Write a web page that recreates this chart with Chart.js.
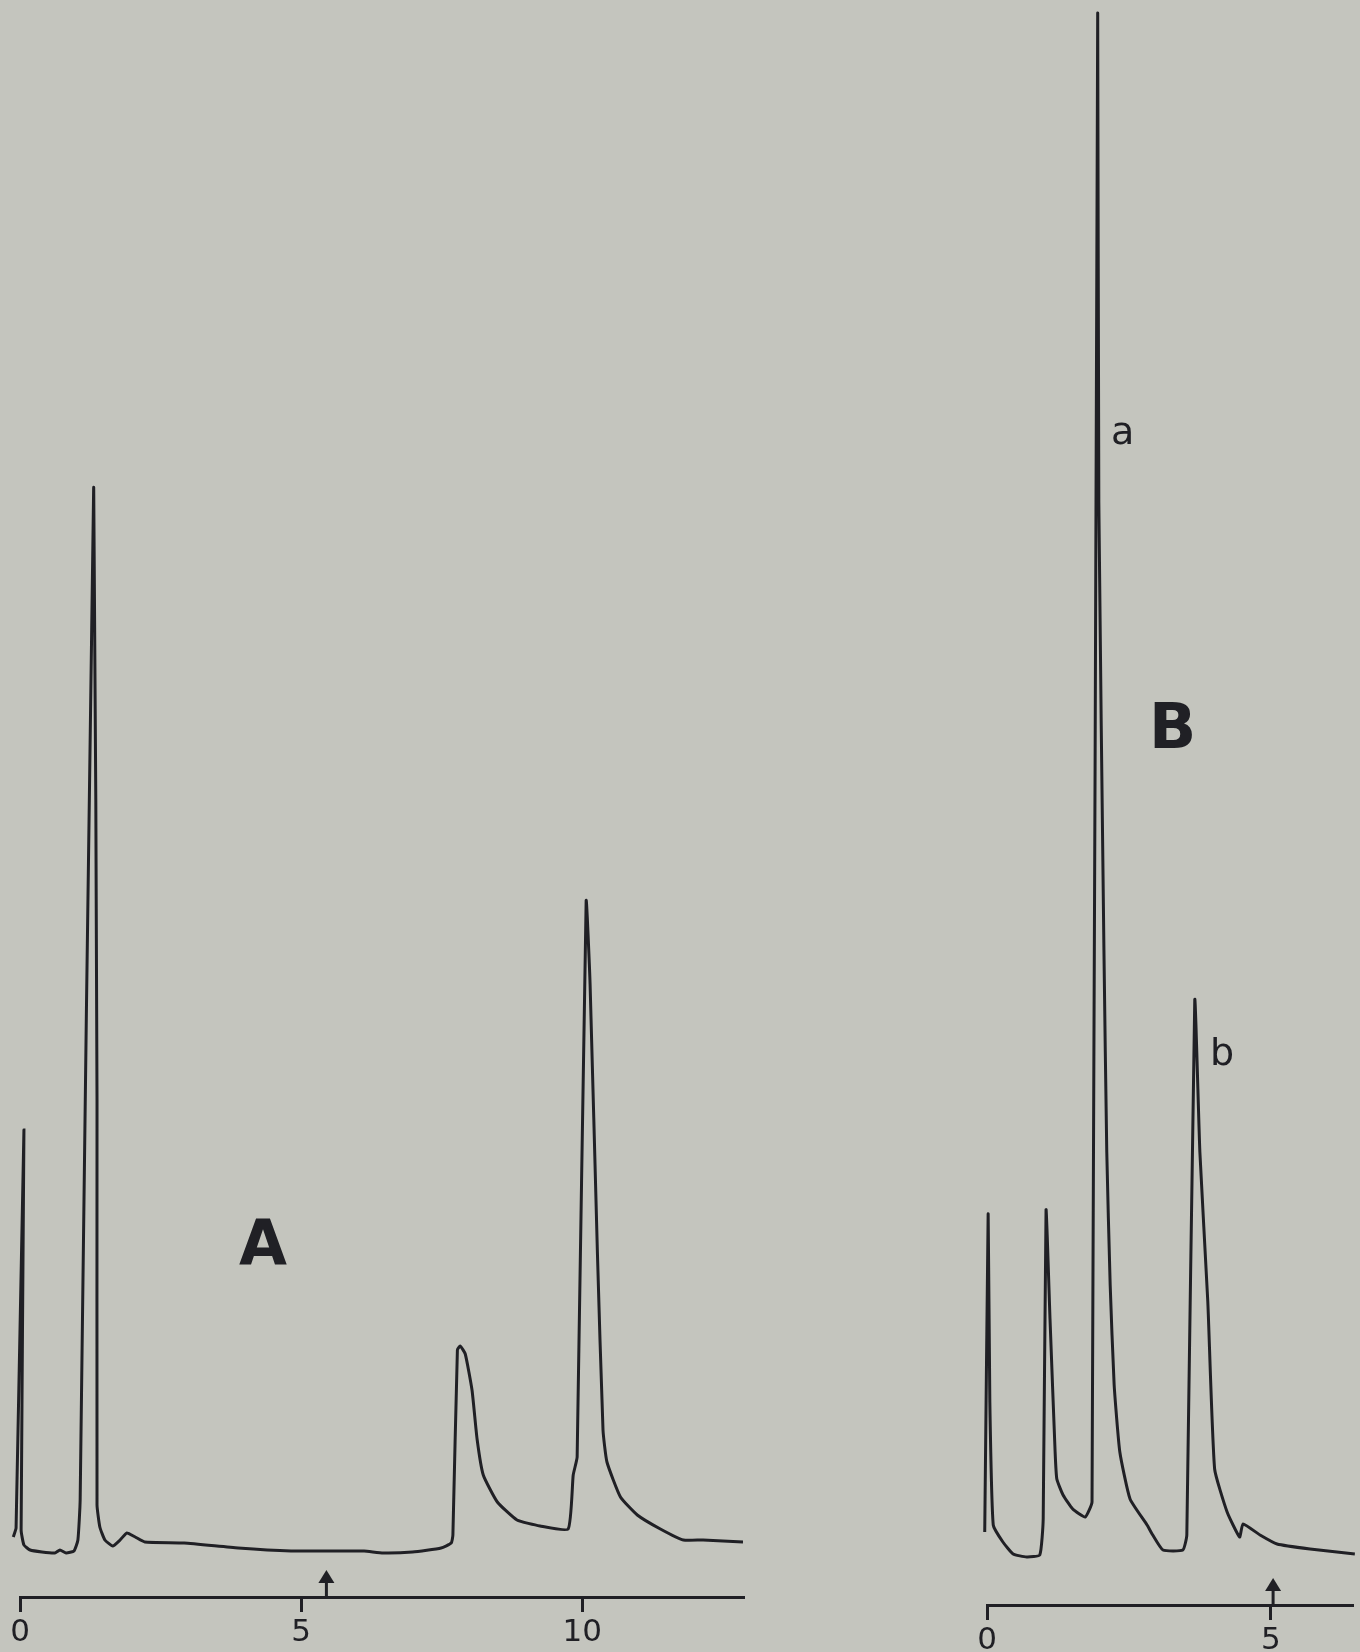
<!DOCTYPE html>
<html>
<head>
<meta charset="utf-8">
<script src="https://cdn.jsdelivr.net/npm/chart.js@4.4.1/dist/chart.umd.min.js"></script>
<style>
    html, body { margin: 0; padding: 0; width: 1360px; height: 1652px; overflow: hidden; background: #c4c5be; }
    canvas { position: absolute; }
    #chart-a { left: 0; top: 0; }
    #chart-b { left: 900px; top: 8px; }
</style>
</head>
<body>
<canvas id="chart-a" width="790" height="1662"></canvas>
<canvas id="chart-b" width="460" height="1662"></canvas>
<script>
// panel A: time (min) vs detector response (arbitrary units)
const timeA = [-0.12, -0.07, 0.07, 0.02, 0.07, 0.18, 0.39, 0.62, 0.71, 0.82, 0.96, 1.03, 1.07, 1.31, 1.37, 1.37, 1.42,
    1.51, 1.65, 1.78, 1.90, 2.05, 2.22, 2.92, 3.88, 4.82, 5.68, 6.12, 6.46, 6.98, 7.49, 7.67, 7.70, 7.78, 7.83, 7.92,
    8.04, 8.13, 8.24, 8.49, 8.84, 9.25, 9.75, 9.84, 9.91, 10.07, 10.14, 10.27, 10.37, 10.44, 10.68, 10.98, 11.39,
    11.80, 12.15, 12.86];
const responseA = [6.0, 6.9, 46.7, 6.7, 5.2, 4.7, 4.5, 4.4, 4.7, 4.4, 4.6, 5.7, 9.7, 110.9, 49.7, 9.2, 7.0,
    5.7, 5.1, 5.7, 6.4, 6.0, 5.5, 5.4, 4.9, 4.6, 4.6, 4.6, 4.4, 4.5, 4.9, 5.4, 6.2, 24.7, 25.1, 24.3,
    20.7, 15.8, 12.2, 9.5, 7.7, 7.1, 6.8, 12.2, 14.0, 69.6, 61.3, 34.5, 16.7, 13.5, 10.0, 8.2, 6.8,
    5.7, 5.7, 5.5];
const ticksA = [0, 5, 10];
const injectA = 5.45;

// panel B
const timeB = [-0.23, -0.18, -0.14, -0.07, -0.04, 0.02, 0.05, 0.11, 0.28, 0.46, 0.70, 0.93, 0.99, 1.04, 1.11, 1.20,
    1.23, 1.34, 1.51, 1.73, 1.85, 1.95, 1.97, 2.06, 2.11, 2.17, 2.24, 2.34, 2.52, 2.82, 2.92, 3.10, 3.45, 3.52,
    3.66, 3.75, 3.89, 4.01, 4.23, 4.45, 4.51, 4.81, 5.11, 5.69, 6.48];
const responseB = [3.5, 6.6, 5.5, 5.8, 7.3, 39.1, 20.3, 8.0, 6.3, 5.1, 4.8, 5.0, 8.6, 39.5, 28.6, 15.3,
    12.6, 11.0, 9.6, 8.8, 10.3, 159.2, 110.3, 65.5, 45.3, 32.0, 22.0, 15.3, 10.6, 8.0, 7.0, 5.5, 5.5, 7.0,
    60.5, 45.3, 30.3, 13.6, 9.3, 6.8, 8.1, 7.0, 6.1, 5.6, 5.1];
const ticksB = [0, 5];
const injectB = 5.04;

const INK = '#202025';
const FONT = '"DejaVu Sans", "Liberation Sans", sans-serif';

const annotate = {
    id: 'annotate',
    afterDatasetsDraw(chart, args, opts) {
        const { ctx } = chart;
        const x = chart.scales.x;
        const y = chart.scales.y;
        ctx.save();
        ctx.fillStyle = INK;
        ctx.strokeStyle = INK;
        ctx.textAlign = 'center';
        ctx.textBaseline = 'middle';
        (opts.labels || []).forEach((l) => {
            ctx.font = l.font;
            ctx.fillText(l.text, x.getPixelForValue(l.t), y.getPixelForValue(l.r));
        });
        if (opts.arrowAt != null) {
            // injection marker sitting on the time axis
            const px = x.getPixelForValue(opts.arrowAt);
            const base = y.getPixelForValue(0);
            ctx.lineWidth = 3;
            ctx.beginPath();
            ctx.moveTo(px, base);
            ctx.lineTo(px, base - 16);
            ctx.stroke();
            ctx.beginPath();
            ctx.moveTo(px, base - 27);
            ctx.lineTo(px - 8, base - 14);
            ctx.lineTo(px + 8, base - 14);
            ctx.closePath();
            ctx.fill();
        }
        ctx.restore();
    },
};

function makePanel(id, times, values, tickValues, xMax, padLeft, padRight, extra) {
    const points = times.map((t, i) => ({ x: t, y: values[i] }));
    new Chart(document.getElementById(id), {
        type: 'line',
        data: {
            datasets: [{
                data: points,
                borderColor: INK,
                borderWidth: 3,
                pointRadius: 0,
                tension: 0.15,
                fill: false,
                clip: false,
            }],
        },
        options: {
            responsive: false,
            animation: false,
            devicePixelRatio: 1,
            layout: { padding: { left: padLeft, right: padRight, top: 0, bottom: 9 } },
            plugins: {
                legend: { display: false },
                tooltip: { enabled: false },
                annotate: extra,
            },
            scales: {
                x: {
                    type: 'linear',
                    min: 0,
                    max: xMax,
                    afterBuildTicks: (scale) => {
                        scale.ticks = tickValues.map((v) => ({ value: v }));
                    },
                    border: { display: true, color: INK, width: 3 },
                    grid: { drawOnChartArea: false, drawTicks: true, tickLength: 15, color: INK, lineWidth: 3 },
                    ticks: {
                        color: INK,
                        padding: 5,
                        maxRotation: 0,
                        autoSkip: false,
                        font: { size: 31, family: FONT, lineHeight: 1 },
                    },
                },
                y: { display: false, min: 0, max: 159.7 },
            },
        },
        plugins: [annotate],
    });
}

makePanel('chart-a', timeA, responseA, ticksA, 12.86, 20, 47, {
    arrowAt: injectA,
    labels: [{ text: 'A', t: 4.32, r: 34.9, font: 'bold 62px ' + FONT }],
});
makePanel('chart-b', timeB, responseB, ticksB, 6.43, 87, 8, {
    arrowAt: injectB,
    labels: [
        { text: 'B', t: 3.27, r: 87.3, font: 'bold 62px ' + FONT },
        { text: 'a', t: 2.39, r: 117.1, font: '38px ' + FONT },
        { text: 'b', t: 4.14, r: 55.0, font: '38px ' + FONT },
    ],
});
</script>
</body>
</html>
